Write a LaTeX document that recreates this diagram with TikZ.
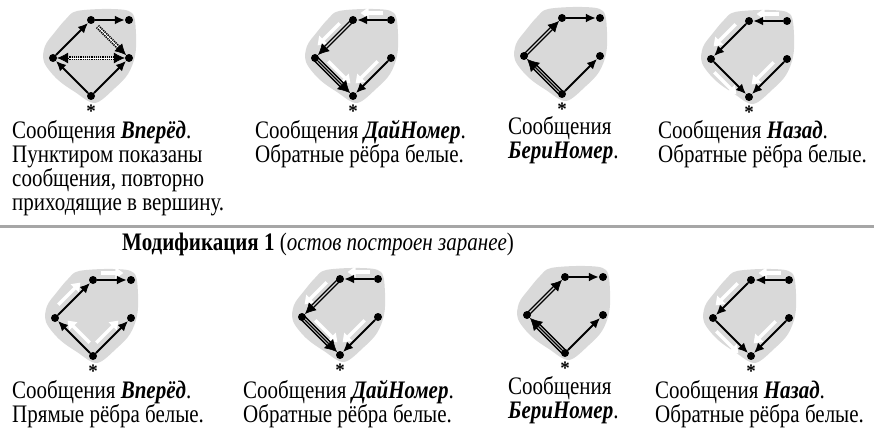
\documentclass[tikz,border=0pt]{standalone}
\usepackage{fontspec}
\usepackage{graphicx}
\setmainfont{Liberation Serif}
\usetikzlibrary{arrows.meta,calc}
\definecolor{blobc}{HTML}{D9D9D9}
\definecolor{rulec}{HTML}{A6A6A6}
\tikzset{
  dot/.style={circle,fill=black,inner sep=0pt,minimum size=8pt},
  edge/.style={line width=1.9pt,-{Latex[length=10pt,width=9pt]}},
  pl/.style={line width=1.3pt},
  tipline/.style={line width=0.6pt,-{Latex[length=11pt,width=11pt]}},
  warrow/.style={white,line width=3.4pt,-{Triangle[length=8pt,width=11pt]}},
  hatch/.style={line width=4.5pt,dash pattern=on 1.2pt off 1pt},
  captext/.style={font=\fontsize{21}{24}\selectfont,anchor=base west,inner sep=0pt},
  starnode/.style={font=\fontsize{19}{22}\selectfont\bfseries,anchor=base,inner sep=0pt,text depth=-0.28em,text height=0.7em}
}
\newcommand\tx[1]{\scalebox{1}[1.2]{#1}}
\newcommand\mygraph[3]{%
  \begin{scope}[shift={(#2,#3)}]
    \fill[blobc] plot[smooth cycle,tension=0.55] coordinates {(-14,-85) (20,-87) (41,-83) (45,-62) (44,-40) (37,-22) (24,-8) (4,7) (-16,-4) (-34,-17) (-47,-34) (-46,-50) (-36,-64) (-25,-77)};
    \node[dot] (b#1) at (0,0) {};
    \node[dot] (l#1) at (-38,-38) {};
    \node[dot] (r#1) at (38,-38) {};
    \node[dot] (t#1) at (0,-76) {};
    \node[dot] (u#1) at (38,-76) {};
    \node[starnode] (s#1) at (0,21) {*};
  \end{scope}}
\newcommand\wa[4]{\draw[warrow] ($(#1)!0.22!(#2)+(#3,#4)$) -- ($(#1)!0.8!(#2)+(#3,#4)$);}
\newcommand\dbl[2]{%
  \draw[pl,shorten >=12pt] ($(#1)!1.4pt!90:(#2)$) -- ($(#2)!1.4pt!-90:(#1)$);
  \draw[pl,shorten >=12pt] ($(#1)!1.4pt!-90:(#2)$) -- ($(#2)!1.4pt!90:(#1)$);
  \draw[tipline] ($(#2)!15pt!(#1)$) -- (#2);}
\newcommand\trp[2]{%
  \draw[pl,shorten >=12pt] ($(#1)!2.4pt!90:(#2)$) -- ($(#2)!2.4pt!-90:(#1)$);
  \draw[pl,shorten >=12pt] (#1) -- (#2);
  \draw[pl,shorten >=12pt] ($(#1)!2.4pt!-90:(#2)$) -- ($(#2)!2.4pt!90:(#1)$);
  \draw[tipline,-{Latex[length=12pt,width=13pt]}] ($(#2)!16pt!(#1)$) -- (#2);}
\begin{document}
\begin{tikzpicture}[x=1pt,y=-1pt]
\useasboundingbox (0,0) rectangle (874,428);
% graphs
\mygraph{1}{91}{96}
\mygraph{2}{353}{96}
\mygraph{3}{562}{94}
\mygraph{4}{749}{97}
\mygraph{5}{93}{356}
\mygraph{6}{340}{355}
\mygraph{7}{565}{353}
\mygraph{8}{751}{356}
% graph 1: forward messages
\draw[edge] (b1) -- (l1);
\draw[edge] (b1) -- (r1);
\draw[edge] (l1) -- (t1);
\draw[edge] (t1) -- (u1);
\draw[hatch,shorten <=10pt,shorten >=10pt] (l1) -- (r1);
\draw[white,line width=0.8pt,shorten <=10pt,shorten >=10pt] (l1) -- (r1);
\draw[tipline] ($(r1)!15pt!(l1)$) -- (r1);
\draw[tipline] ($(l1)!15pt!(r1)$) -- (l1);
\draw[hatch,shorten <=5pt,shorten >=10pt] (t1) -- (r1);
\draw[white,line width=0.8pt,shorten <=5pt,shorten >=10pt] (t1) -- (r1);
\draw[tipline] ($(r1)!15pt!(t1)$) -- (r1);
% graph 2: DajNomer
\wa{u2}{t2}{0}{-7}
\wa{t2}{l2}{-5}{-5}
\wa{l2}{b2}{5}{-5}
\wa{r2}{b2}{-5}{-5}
\draw[edge] (u2) -- (t2);
\dbl{t2}{l2}
\trp{l2}{b2}
\draw[edge] (r2) -- (b2);
% graph 3: BeriNomer
\draw[edge] (t3) -- (u3);
\dbl{l3}{t3}
\trp{b3}{l3}
\draw[edge] (b3) -- (r3);
% graph 4: Nazad
\wa{u4}{t4}{0}{-7}
\wa{t4}{l4}{-5}{-5}
\wa{l4}{b4}{-5}{5}
\wa{r4}{b4}{-5}{-5}
\draw[edge] (u4) -- (t4);
\draw[edge] (t4) -- (l4);
\draw[edge] (l4) -- (b4);
\draw[edge] (r4) -- (b4);
% graph 5: forward, modification
\wa{t5}{u5}{0}{-7}
\wa{l5}{t5}{-5}{-5}
\wa{b5}{l5}{5}{-5}
\wa{b5}{r5}{-5}{-5}
\draw[edge] (b5) -- (l5);
\draw[edge] (b5) -- (r5);
\draw[edge] (l5) -- (t5);
\draw[edge] (t5) -- (u5);
% graph 6
\wa{u6}{t6}{0}{-7}
\wa{t6}{l6}{-5}{-5}
\wa{l6}{b6}{5}{-5}
\wa{r6}{b6}{-5}{-5}
\draw[edge] (u6) -- (t6);
\dbl{t6}{l6}
\trp{l6}{b6}
\draw[edge] (r6) -- (b6);
% graph 7
\draw[edge] (t7) -- (u7);
\dbl{l7}{t7}
\trp{b7}{l7}
\draw[edge] (b7) -- (r7);
% graph 8
\wa{u8}{t8}{0}{-7}
\wa{t8}{l8}{-5}{-5}
\wa{l8}{b8}{-5}{5}
\wa{r8}{b8}{-5}{-5}
\draw[edge] (u8) -- (t8);
\draw[edge] (t8) -- (l8);
\draw[edge] (l8) -- (b8);
\draw[edge] (r8) -- (b8);
% captions row 1
\node[captext] (c1a) at (12,138) {\tx{Сообщения \textbf{\textit{Вперёд}}.}};
\node[captext] (c1b) at (12,162) {\tx{Пунктиром показаны}};
\node[captext] (c1c) at (12,186) {\tx{сообщения, повторно}};
\node[captext] (c1d) at (12,210) {\tx{приходящие в вершину.}};
\node[captext] (c2a) at (255,138) {\tx{Сообщения \textbf{\textit{ДайНомер}}.}};
\node[captext] (c2b) at (255,162) {\tx{Обратные рёбра белые.}};
\node[captext] (c3a) at (508,134) {\tx{Сообщения}};
\node[captext] (c3b) at (508,158) {\tx{\textbf{\textit{БериНомер}}.}};
\node[captext] (c4a) at (658,138) {\tx{Сообщения \textbf{\textit{Назад}}.}};
\node[captext] (c4b) at (658,162) {\tx{Обратные рёбра белые.}};
% rule and heading
\coordinate (ruleA) at (0,226);
\coordinate (ruleB) at (874,226);
\draw[rulec,line width=3pt] (ruleA) -- (ruleB);
\node[captext] (head) at (122,250) {\tx{\textbf{Модификация 1} (\textit{остов построен заранее})}};
% captions row 2
\node[captext] (c5a) at (12,398) {\tx{Сообщения \textbf{\textit{Вперёд}}.}};
\node[captext] (c5b) at (12,422) {\tx{Прямые рёбра белые.}};
\node[captext] (c6a) at (243,398) {\tx{Сообщения \textbf{\textit{ДайНомер}}.}};
\node[captext] (c6b) at (243,422) {\tx{Обратные рёбра белые.}};
\node[captext] (c7a) at (508,394) {\tx{Сообщения}};
\node[captext] (c7b) at (508,418) {\tx{\textbf{\textit{БериНомер}}.}};
\node[captext] (c8a) at (655,398) {\tx{Сообщения \textbf{\textit{Назад}}.}};
\node[captext] (c8b) at (655,422) {\tx{Обратные рёбра белые.}};
\end{tikzpicture}
\end{document}
